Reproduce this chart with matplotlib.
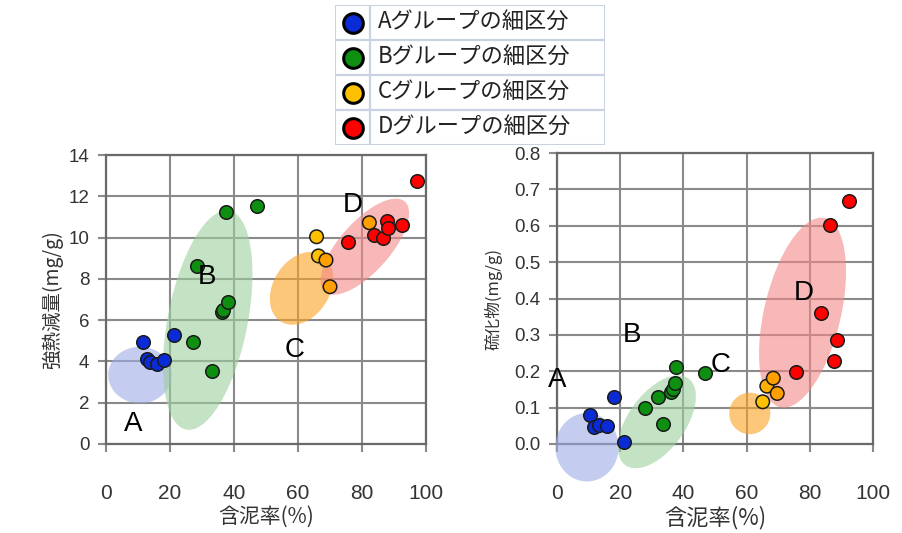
import numpy as np
import matplotlib.pyplot as plt
from matplotlib.patches import Rectangle

plt.rcParams['font.family'] = ['Liberation Sans', 'Noto Sans CJK JP', 'DejaVu Sans']
CJK = ['Noto Sans CJK JP', 'DejaVu Sans']

groups = ["A", "B", "C", "D"]
legend_labels = ["Aグループの細区分", "Bグループの細区分", "Cグループの細区分", "Dグループの細区分"]
point_colors = ["#0a2bd6", "#0f8f12", "#ffc000", "#ff0000"]
ellipse_colors = ["#9eace6", "#9dcf9d", "#fca321", "#f58989"]

# left chart: 強熱減量
ign_a_x = [11.6, 12.7, 13.8, 15.8, 18.1, 21.2]
ign_a_y = [4.94, 4.10, 3.95, 3.88, 4.07, 5.28]
ign_b_x = [27.1, 28.3, 33.2, 36.2, 36.7, 37.5, 38.2, 47.1]
ign_b_y = [4.94, 8.62, 3.55, 6.40, 6.49, 11.25, 6.86, 11.53]
ign_c_x = [65.8, 66.4, 68.75, 70.0, 82.3]
ign_c_y = [10.04, 9.11, 8.91, 7.62, 10.72]
ign_d_x = [75.5, 83.9, 86.7, 87.7, 88.2, 92.6, 97.1]
ign_d_y = [9.77, 10.12, 10.0, 10.80, 10.45, 10.61, 12.76]

# right chart: 硫化物
sul_a_x = [10.5, 11.6, 13.2, 15.8, 18.1, 21.3]
sul_a_y = [0.080, 0.048, 0.052, 0.050, 0.128, 0.006]
sul_b_x = [28.0, 31.9, 33.4, 36.1, 36.6, 37.4, 37.8, 46.9]
sul_b_y = [0.098, 0.128, 0.054, 0.142, 0.150, 0.167, 0.211, 0.196]
sul_c_x = [65.1, 66.4, 68.45, 69.7]
sul_c_y = [0.116, 0.159, 0.181, 0.139]
sul_d_x = [75.6, 83.6, 86.3, 87.8, 88.6, 92.3]
sul_d_y = [0.197, 0.361, 0.603, 0.227, 0.286, 0.669]

# C group points come in two shades
ign_c_shade = ["#ffc000", "#ffc000", "#ffa000", "#ffa000", "#ffa000"]
sul_c_shade = ["#ffc000", "#ffb000", "#ffa000", "#ffa000"]

# group ellipses: centre, semi-axis vector 1, semi-axis vector 2 (data units)
ign_ellipses = [
    ((10.6, 3.34), (9.9, 0.0), (0.0, 1.37)),
    ((31.8, 6.0), (6.8, 5.3), (12.2, -0.40)),
    ((61.1, 7.54), (6.46, 1.61), (7.5, -0.72)),
    ((80.9, 9.56), (12.5, 2.18), (5.85, -0.81)),
]
sul_ellipses = [
    ((9.5, -0.009), (10.0, 0.0), (0.0, 0.094)),
    ((31.6, 0.061), (10.0, 0.119), (7.24, -0.046)),
    ((61.0, 0.084), (6.5, 0.0), (0.0, 0.057)),
    ((77.7, 0.361), (7.07, 0.26), (11.8, -0.0243)),
]

ign_label_pos = [(8.5, 0.95), (31.5, 8.1), (59.0, 4.55), (77.0, 11.58)]
sul_label_pos = [(0.2, 0.176), (23.7, 0.30), (51.7, 0.217), (78.0, 0.415)]

GRID = "#8a8a8a"
SPINE = "#6a6a6a"
TICK_TXT = "#333333"


def draw_ellipse(ax, centre, a, b, color):
    t = np.linspace(0, 2 * np.pi, 200)
    xs = centre[0] + a[0] * np.cos(t) + b[0] * np.sin(t)
    ys = centre[1] + a[1] * np.cos(t) + b[1] * np.sin(t)
    ax.fill(xs, ys, color=color, alpha=0.6, lw=0, zorder=3, clip_on=False)


def style_axes(ax, ylim, ystep, yfmt, ysize):
    ax.set_xlim(0, 100)
    ax.set_ylim(*ylim)
    ax.set_xticks(np.arange(0, 101, 20))
    yt = np.arange(ylim[0], ylim[1] + ystep / 2, ystep)
    ax.set_yticks(yt)
    ax.set_yticklabels([yfmt.format(v) for v in yt])
    ax.grid(True, color=GRID, lw=1.5, zorder=1)
    ax.set_axisbelow(True)
    for s in ax.spines.values():
        s.set_color(SPINE)
        s.set_linewidth(1.6)
    ax.tick_params(axis="x", length=6, width=1.5, color=GRID, pad=23,
                   labelsize=15, labelcolor=TICK_TXT)
    ax.tick_params(axis="y", length=6, width=1.5, color=GRID, pad=6,
                   labelsize=ysize, labelcolor=TICK_TXT)


fig = plt.figure(figsize=(9.03, 5.33), dpi=100)
ax1 = fig.add_axes([106 / 903, 89 / 533, 320 / 903, 289 / 533])
ax2 = fig.add_axes([557 / 903, 89 / 533, 316 / 903, 291 / 533])

ign_x = [ign_a_x, ign_b_x, ign_c_x, ign_d_x]
ign_y = [ign_a_y, ign_b_y, ign_c_y, ign_d_y]
sul_x = [sul_a_x, sul_b_x, sul_c_x, sul_d_x]
sul_y = [sul_a_y, sul_b_y, sul_c_y, sul_d_y]

for ax, xs, ys, ells, lpos, cshade in [
    (ax1, ign_x, ign_y, ign_ellipses, ign_label_pos, ign_c_shade),
    (ax2, sul_x, sul_y, sul_ellipses, sul_label_pos, sul_c_shade),
]:
    for i, g in enumerate(groups):
        draw_ellipse(ax, *ells[i], ellipse_colors[i])
        col = cshade if g == "C" else point_colors[i]
        ax.scatter(xs[i], ys[i], s=95, c=col, edgecolors="#1a1a1a",
                   linewidths=1.1, zorder=5, clip_on=False)
        ax.text(lpos[i][0], lpos[i][1], g, fontsize=20, color="black",
                ha="center", va="center", zorder=6)

style_axes(ax1, (0, 14), 2, "{:.0f}", 13.5)
style_axes(ax2, (0, 0.8), 0.1, "{:.1f}", 13.5)

ax1.set_xlabel("含泥率(%)", family=CJK, fontsize=15, color="#333333", labelpad=2)
ax1.set_ylabel("強熱減量(mg/g)", family=CJK, fontsize=14, color="#333333", labelpad=4)
ax2.set_xlabel("含泥率(%)", family=CJK, fontsize=16, color="#333333", labelpad=2)
ax2.set_ylabel("硫化物(mg/g)", family=CJK, fontsize=12, color="#333333", labelpad=8)

# legend drawn as a small table
leg = fig.add_axes([335 / 903, 1 - 145 / 533, 270 / 903, 140 / 533])
leg.set_xlim(0, 270)
leg.set_ylim(140, 0)
leg.axis("off")
row_h = 35
for i, lab in enumerate(legend_labels):
    y0 = i * row_h
    leg.add_patch(Rectangle((0, y0), 35, row_h, fill=False, ec="#c9d1e3", lw=1.5))
    leg.add_patch(Rectangle((35, y0), 235, row_h, fill=False, ec="#c9d1e3", lw=1.5))
    leg.scatter([18], [y0 + row_h / 2], s=200, c=point_colors[i],
                edgecolors="black", linewidths=2.2, zorder=5)
    leg.text(43, y0 + row_h / 2, lab, family=CJK, fontsize=16, color="#222222",
             ha="left", va="center")

fig.savefig("out.png", dpi=100)
